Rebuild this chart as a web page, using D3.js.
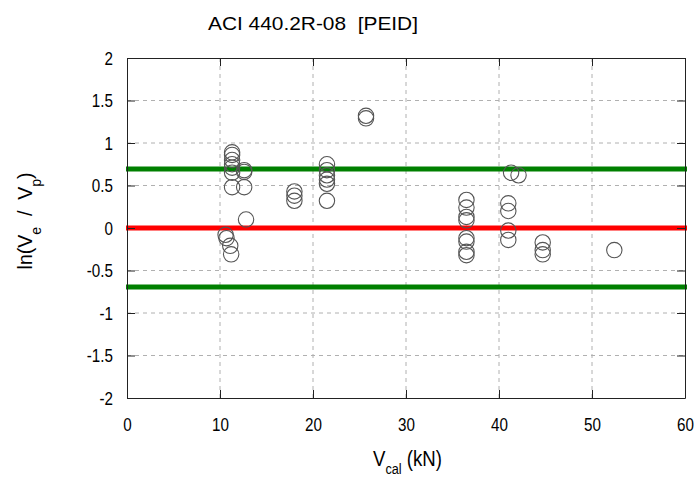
<!DOCTYPE html>
<html><head><meta charset="utf-8">
<script src="https://cdn.jsdelivr.net/npm/d3@7"></script>
<style>body{margin:0;background:#fff;} text{font-family:"Liberation Sans",Arial,sans-serif;fill:#000;white-space:pre;}</style>
</head><body>
<svg id="c" width="697" height="480"></svg>
<script>
const titleText = "ACI 440.2R-08  [PEID]";
const xTicks = [0,10,20,30,40,50,60];
const yTicks = [-2,-1.5,-1,-0.5,0,0.5,1,1.5,2];
const vcal = [11.3,11.3,11.3,11.3,11.3,11.3,11.3,12.6,12.6,12.6,12.8,
  10.6,10.7,11.1,11.2,
  18.0,18.0,18.0,
  21.5,21.5,21.5,21.5,21.5,21.5,
  25.7,25.7,
  36.5,36.5,36.5,36.5,36.5,36.5,36.5,36.5,
  41.0,41.0,41.0,41.0,41.3,42.1,
  44.7,44.7,44.7,52.4];
const lnRatio = [0.89,0.86,0.80,0.75,0.71,0.65,0.48,0.68,0.66,0.48,0.10,
  -0.08,-0.12,-0.21,-0.31,
  0.43,0.38,0.32,
  0.75,0.68,0.62,0.57,0.52,0.32,
  1.32,1.29,
  0.33,0.24,0.13,0.09,-0.12,-0.16,-0.28,-0.32,
  0.29,0.20,-0.03,-0.14,0.65,0.62,
  -0.17,-0.26,-0.31,-0.26];
const refLines = [{v:0,c:"#ff0000"},{v:Math.log(2),c:"#008000"},{v:-Math.log(2),c:"#008000"}];

const svg = d3.select("#c");
const L=127,R=685,T=58,B=398;
const x = d3.scaleLinear().domain([0,60]).range([L,R]);
const y = d3.scaleLinear().domain([-2,2]).range([B,T]);
const fmt = d => String(d);
function condense(sel, f){
  sel.each(function(){
    const w = this.getComputedTextLength();
    d3.select(this).attr("textLength", w*f).attr("lengthAdjust","spacingAndGlyphs");
  });
}

// grid
svg.append("g").selectAll("line").data(xTicks.slice(1,-1)).join("line")
  .attr("x1",d=>x(d)).attr("x2",d=>x(d)).attr("y1",T).attr("y2",B)
  .attr("stroke","#b0b0b0").attr("stroke-dasharray","4,4").attr("stroke-width",1);
svg.append("g").selectAll("line").data(yTicks.slice(1,-1)).join("line")
  .attr("y1",d=>y(d)).attr("y2",d=>y(d)).attr("x1",L).attr("x2",R)
  .attr("stroke","#b0b0b0").attr("stroke-dasharray","4,4").attr("stroke-width",1);

// ref lines
svg.append("g").selectAll("line").data(refLines).join("line")
  .attr("x1",L-1).attr("x2",R+2).attr("y1",d=>y(d.v)).attr("y2",d=>y(d.v))
  .attr("stroke",d=>d.c).attr("stroke-width",5);

// axes
const xa = svg.append("g").attr("transform",`translate(0,${B})`).call(d3.axisBottom(x).tickValues(xTicks).tickSizeInner(-8).tickSizeOuter(0).tickFormat(fmt));
const xa2 = svg.append("g").attr("transform",`translate(0,${T})`).call(d3.axisTop(x).tickValues(xTicks).tickSizeInner(-8).tickSizeOuter(0).tickFormat(""));
const ya = svg.append("g").attr("transform",`translate(${L},0)`).call(d3.axisLeft(y).tickValues(yTicks).tickSizeInner(-8).tickSizeOuter(0).tickPadding(14).tickFormat(fmt));
const ya2 = svg.append("g").attr("transform",`translate(${R},0)`).call(d3.axisRight(y).tickValues(yTicks).tickSizeInner(-8).tickSizeOuter(0).tickFormat(""));
[xa,xa2,ya,ya2].forEach(a=>{
  a.selectAll("path,line").attr("stroke","#222");
  a.selectAll("text").style("font-size","19px").attr("fill","#000");
});
xa.selectAll("text").attr("y",33).attr("dy",0);
ya.selectAll("text").attr("dy","0.34em");
condense(xa.selectAll("text"),0.8);
condense(ya.selectAll("text"),0.8);

// points
svg.append("g").selectAll("circle").data(vcal.map((v,i)=>[v,lnRatio[i]])).join("circle")
  .attr("cx",d=>x(d[0])).attr("cy",d=>y(d[1])).attr("r",7.7)
  .attr("fill","none").attr("stroke","#555").attr("stroke-width",1.1);

// title
const tt = svg.append("text").attr("x",313).attr("y",30).attr("text-anchor","middle").style("font-size","19px").text(titleText);
tt.attr("textLength",210).attr("lengthAdjust","spacingAndGlyphs");

function scaledLabel(g, target){
  const w = g.select("text").node().getBBox().width;
  return target/w;
}
// x label
const xg = svg.append("g");
const xl = xg.append("text").attr("x",0).attr("y",0).attr("text-anchor","middle").style("font-size","22px");
xl.append("tspan").text("V");
xl.append("tspan").attr("dy",8).style("font-size","15px").text("cal");
xl.append("tspan").attr("dy",-8).text(" (kN)");
const sx = scaledLabel(xg, 69);
const bx = xl.node().getBBox();
xg.attr("transform",`translate(${407.5 - (bx.x+bx.width/2)*sx},466) scale(${sx},1)`);

// y label
const yg = svg.append("g");
const yl = yg.append("text").attr("x",0).attr("y",0).attr("text-anchor","middle").style("font-size","21px");
yl.append("tspan").text("ln(V");
yl.append("tspan").attr("dy",9).style("font-size","15px").text("e");
yl.append("tspan").attr("dy",-9).text("  /  V");
yl.append("tspan").attr("dy",9).style("font-size","15px").text("p");
yl.append("tspan").attr("dy",-9).text(")");
const sy = scaledLabel(yg, 97);
const by = yl.node().getBBox();
yg.attr("transform",`translate(32,${221 + (by.x+by.width/2)*sy}) rotate(-90) scale(${sy},1)`);
</script>
</body></html>
